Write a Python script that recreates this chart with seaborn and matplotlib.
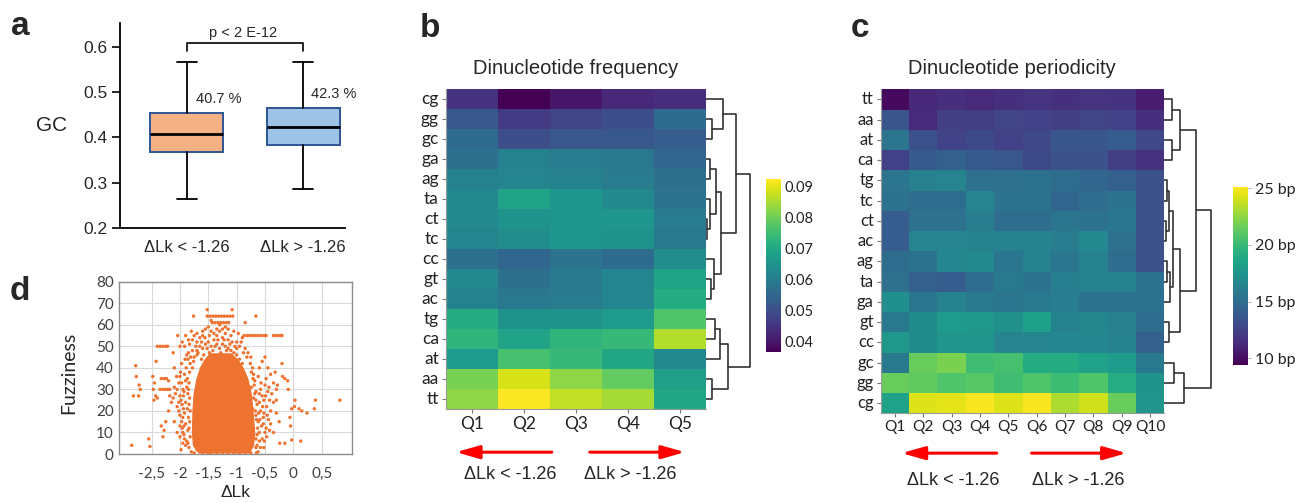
import numpy as np
import pandas as pd
import matplotlib
matplotlib.use("Agg")
import matplotlib.pyplot as plt
import seaborn as sns

sns.set_theme(style="white")
plt.rcParams['font.family'] = ['Liberation Sans', 'DejaVu Sans']

# ---------------- data ----------------
# panel a (box statistics of GC content)
groups_a = ['ΔLk < -1.26', 'ΔLk > -1.26']
gc_median = [0.407, 0.424]
gc_q1 = [0.368, 0.383]
gc_q3 = [0.455, 0.466]
gc_whislo = [0.263, 0.285]
gc_whishi = [0.567, 0.566]
gc_mean_label = ['40.7 %', '42.3 %']
p_label = 'p < 2 E-12'

# panel b (dinucleotide frequency)
freq_rows = ['cg', 'gg', 'gc', 'ga', 'ag', 'ta', 'ct', 'tc', 'cc', 'gt', 'ac', 'tg', 'ca', 'at', 'aa', 'tt']
freq_cols = ['Q1', 'Q2', 'Q3', 'Q4', 'Q5']
freq_values = [
    [0.045, 0.037, 0.040, 0.043, 0.044],
    [0.052, 0.046, 0.048, 0.050, 0.056],
    [0.056, 0.050, 0.052, 0.052, 0.053],
    [0.057, 0.061, 0.060, 0.059, 0.055],
    [0.061, 0.062, 0.061, 0.060, 0.057],
    [0.063, 0.069, 0.066, 0.063, 0.058],
    [0.063, 0.065, 0.066, 0.066, 0.060],
    [0.062, 0.064, 0.066, 0.065, 0.059],
    [0.057, 0.055, 0.058, 0.056, 0.064],
    [0.063, 0.057, 0.059, 0.062, 0.069],
    [0.061, 0.059, 0.060, 0.062, 0.071],
    [0.071, 0.065, 0.065, 0.067, 0.077],
    [0.073, 0.069, 0.073, 0.074, 0.086],
    [0.067, 0.076, 0.074, 0.070, 0.063],
    [0.081, 0.089, 0.083, 0.079, 0.068],
    [0.083, 0.092, 0.087, 0.085, 0.070],
]
freq_ticks = [0.04, 0.05, 0.06, 0.07, 0.08, 0.09]
# dendrogram merges (child a, child b, merge height)
freq_linkage = [(1, 2, 6.6), (0, 16, 17.6), (3, 4, 4.3), (6, 7, 1.3), (5, 19, 4.3),
                (18, 20, 10), (9, 10, 5.3), (8, 22, 8.6), (21, 23, 15), (17, 24, 30.3),
                (11, 12, 9.3), (26, 13, 14.3), (14, 15, 6), (27, 28, 22), (25, 29, 44.3)]

# panel c (dinucleotide periodicity, bp)
per_rows = ['tt', 'aa', 'at', 'ca', 'tg', 'tc', 'ct', 'ac', 'ag', 'ta', 'ga', 'gt', 'cc', 'gc', 'gg', 'cg']
per_cols = ['Q1', 'Q2', 'Q3', 'Q4', 'Q5', 'Q6', 'Q7', 'Q8', 'Q9', 'Q10']
per_values = [
    [9.8, 11.2, 11.5, 11.3, 11.6, 11.8, 11.6, 11.8, 11.7, 10.6],
    [13.5, 11.3, 12.3, 12.2, 12.6, 12.5, 12.3, 12.6, 12.5, 11.6],
    [15.5, 13.3, 12.5, 12.9, 12.4, 12.8, 13.6, 13.6, 14.0, 12.8],
    [12.4, 13.8, 14.2, 13.8, 13.7, 12.9, 13.4, 13.4, 12.2, 11.7],
    [15.5, 16.2, 16.5, 15.2, 15.2, 15.3, 15.0, 14.6, 14.2, 13.4],
    [15.3, 15.0, 15.0, 16.5, 15.4, 15.3, 14.5, 14.9, 15.4, 13.4],
    [14.0, 15.2, 15.2, 16.0, 15.0, 15.0, 15.5, 15.3, 15.6, 13.4],
    [14.0, 16.5, 16.5, 16.3, 16.3, 16.4, 16.0, 16.8, 15.2, 13.4],
    [15.0, 15.3, 16.6, 16.8, 15.6, 16.3, 15.6, 16.4, 15.0, 13.4],
    [15.2, 14.2, 14.0, 15.0, 15.8, 15.3, 16.1, 16.3, 16.3, 15.3],
    [17.2, 15.6, 16.3, 15.8, 15.5, 15.8, 16.0, 15.3, 15.4, 15.3],
    [15.8, 17.0, 18.0, 17.8, 17.3, 18.3, 16.3, 16.7, 16.2, 15.0],
    [17.8, 17.0, 17.6, 17.6, 16.5, 16.5, 16.6, 16.6, 16.4, 14.2],
    [15.8, 21.5, 22.0, 20.3, 20.5, 19.0, 19.0, 18.5, 18.0, 15.8],
    [21.5, 21.3, 20.8, 21.0, 20.3, 20.8, 20.2, 20.8, 19.2, 17.5],
    [18.5, 24.3, 24.5, 25.0, 24.3, 25.0, 23.2, 24.0, 21.5, 17.6],
]
per_ticks = [10, 15, 20, 25]
per_linkage = [(0, 1, 8), (2, 3, 8), (16, 17, 16), (4, 5, 3), (6, 7, 2), (19, 20, 5),
               (8, 9, 3), (22, 10, 6), (21, 23, 9), (11, 12, 5), (24, 25, 16), (18, 26, 32),
               (13, 14, 9.5), (28, 15, 20), (27, 29, 46.5)]

# panel d (ΔLk vs fuzziness)
core_fuzz = [0.5, 4, 10, 20, 28, 35, 40, 44, 47]
core_left = [-1.68, -1.78, -1.80, -1.79, -1.77, -1.72, -1.66, -1.58, -1.48]
core_right = [-0.78, -0.70, -0.68, -0.71, -0.74, -0.80, -0.88, -0.98, -1.10]
points_d = [
    (-2.85, 4), (-2.82, 27), (-2.78, 41), (-2.77, 36), (-2.72, 32), (-2.70, 30), (-2.73, 27),
    (-2.55, 7), (-2.53, 3.5), (-2.42, 43), (-2.40, 50), (-2.35, 50), (-2.30, 50), (-2.25, 50), (-2.22, 50),
    (-2.48, 36), (-2.45, 33), (-2.47, 30), (-2.43, 27), (-2.40, 26), (-2.46, 25),
    (-2.35, 30), (-2.30, 30), (-2.26, 30), (-2.22, 30), (-2.18, 30), (-2.33, 35), (-2.28, 35), (-2.24, 35), (-2.20, 34),
    (-2.33, 13), (-2.28, 11), (-2.30, 8), (-2.25, 15), (-2.20, 20), (-2.18, 27), (-2.15, 24),
    (-2.12, 47), (-2.04, 55), (-2.00, 50), (-1.96, 52), (-2.10, 40), (-2.06, 36), (-2.02, 33), (-2.08, 28),
    (-2.12, 26), (-2.05, 22), (-2.00, 18), (-2.10, 15), (-1.96, 12), (-2.00, 8), (-1.95, 5), (-2.10, 31),
    (-2.05, 30), (-2.00, 27), (-1.98, 25), (-2.02, 20), (-1.97, 15), (-2.05, 10),
    (-1.92, 37), (-1.90, 34), (-1.88, 31), (-1.93, 29), (-1.86, 28), (-1.90, 24), (-1.87, 21), (-1.92, 19),
    (-1.85, 17), (-1.90, 14), (-1.86, 11), (-1.93, 9), (-1.88, 6), (-1.84, 3), (-1.83, 38), (-1.82, 42),
    (-1.86, 44), (-1.85, 47), (-1.80, 1), (-1.75, 0.5),
    (-1.90, 55), (-1.85, 53), (-1.80, 57), (-1.75, 55), (-1.70, 52), (-1.65, 54), (-1.60, 57), (-1.55, 58),
    (-1.50, 59), (-1.45, 57), (-1.40, 56), (-1.35, 55), (-1.30, 57), (-1.25, 54), (-1.20, 56), (-1.15, 53),
    (-1.10, 55), (-1.05, 57), (-1.00, 52), (-0.95, 50), (-1.70, 48), (-1.65, 50), (-1.60, 49), (-1.55, 51),
    (-1.50, 52), (-1.45, 50), (-1.40, 53), (-1.35, 51), (-1.30, 49), (-1.25, 51), (-1.20, 50), (-1.15, 49),
    (-1.10, 48), (-1.05, 47), (-1.00, 46), (-1.75, 45), (-1.70, 46), (-1.62, 44), (-0.95, 44), (-0.90, 42),
    (-1.30, 60), (-1.45, 62), (-1.20, 59),
    (-1.76, 64), (-1.52, 64), (-1.47, 64), (-1.42, 64), (-1.37, 64), (-1.32, 64), (-1.27, 64), (-1.22, 64),
    (-1.17, 64), (-1.12, 64), (-1.07, 64), (-0.66, 64), (-1.52, 67), (-1.08, 67),
    (-1.43, 61), (-1.38, 61), (-1.33, 61), (-1.28, 61), (-1.23, 61), (-1.18, 61), (-1.14, 61), (-0.85, 61),
    (-0.87, 55), (-0.82, 55), (-0.77, 55), (-0.72, 55), (-0.67, 55), (-0.62, 55), (-0.57, 55), (-0.52, 55),
    (-0.48, 55), (-0.35, 55), (-0.30, 55), (-0.25, 55), (-0.20, 55),
    (-0.72, 40), (-0.70, 37), (-0.68, 34), (-0.74, 31), (-0.66, 29), (-0.70, 26), (-0.64, 23), (-0.72, 21),
    (-0.66, 18), (-0.62, 15), (-0.70, 12), (-0.64, 9), (-0.60, 6), (-0.66, 3), (-0.62, 1), (-0.58, 30),
    (-0.55, 27), (-0.52, 25), (-0.58, 20), (-0.53, 17), (-0.56, 13), (-0.50, 10), (-0.55, 7), (-0.52, 3),
    (-0.48, 35), (-0.50, 32), (-0.45, 29), (-0.47, 22), (-0.44, 16), (-0.48, 12), (-0.50, 45), (-0.55, 43),
    (-0.60, 40), (-0.62, 36), (-0.80, 47), (-0.75, 45),
    (-1.45, 0.5), (-1.35, 0.5), (-1.25, 0.5), (-1.15, 0.5), (-1.05, 0.5), (-0.95, 0.5), (-0.85, 0.5),
    (-0.75, 0.5), (-0.65, 0.5),
    (-0.40, 37), (-0.35, 33), (-0.30, 30), (-0.38, 28), (-0.35, 24), (-0.30, 19), (-0.25, 15), (-0.24, 5),
    (-0.15, 5), (-0.35, 10), (-0.40, 14), (-0.40, 20), (-0.42, 25), (-0.20, 42), (-0.19, 36), (-0.15, 35),
    (-0.10, 34), (-0.09, 30), (-0.21, 55), (0.03, 25), (0.02, 22), (-0.03, 21), (-0.06, 17), (-0.05, 13),
    (-0.03, 6.5), (0.10, 21), (0.15, 20), (0.24, 19), (0.37, 21), (0.39, 25), (0.82, 25), (0.13, 6),
    (-0.30, 25), (-0.28, 32), (-0.32, 38), (-0.45, 40),
    (-1.97, 33), (-1.95, 30), (-1.94, 27), (-1.96, 23), (-1.94, 21), (-1.95, 17), (-1.93, 13), (-1.95, 10),
    (-1.92, 7), (-1.90, 4), (-1.89, 40), (-1.87, 35), (-1.84, 33), (-1.85, 30), (-1.83, 26), (-1.84, 23),
    (-1.82, 20), (-1.83, 15), (-1.84, 12), (-1.82, 8), (-1.86, 5), (-1.81, 45), (-1.78, 48), (-1.76, 43),
    (-1.78, 40), (-1.99, 38), (-1.97, 42), (-1.91, 44), (-1.88, 46), (-1.92, 50), (-2.00, 36), (-2.02, 24),
    (-2.00, 13), (-1.98, 2),
    (-0.76, 42), (-0.74, 38), (-0.71, 35), (-0.69, 32), (-0.68, 28), (-0.66, 25), (-0.67, 20), (-0.65, 16),
    (-0.63, 12), (-0.66, 7), (-0.64, 4), (-0.60, 28), (-0.60, 24), (-0.61, 19), (-0.59, 16), (-0.60, 10),
    (-0.58, 3), (-0.57, 33), (-0.54, 22), (-0.52, 19), (-0.53, 14), (-0.51, 6), (-0.49, 27), (-0.46, 18),
    (-0.47, 8), (-0.43, 31), (-0.42, 11), (-0.85, 49), (-0.82, 45), (-0.88, 47), (-0.92, 52), (-0.90, 54),
    (-0.97, 56), (-1.00, 49),
    (-1.72, 50), (-1.68, 47), (-1.62, 52), (-1.58, 46), (-1.56, 54), (-1.52, 49), (-1.48, 55), (-1.42, 48),
    (-1.38, 50), (-1.33, 53), (-1.28, 47), (-1.22, 53), (-1.18, 48), (-1.12, 51), (-1.08, 52), (-1.03, 50),
    (-1.48, 47), (-1.40, 45), (-1.60, 55), (-1.25, 58), (-1.15, 58), (-1.35, 58), (-1.70, 56), (-1.83, 51),
    (-1.78, 53), (-1.60, 0.5), (-1.55, 1), (-1.50, 0.5), (-1.70, 2),
]
dlk_ticks = [-2.5, -2, -1.5, -1, -0.5, 0, 0.5]
dlk_ticklabels = ['-2,5', '-2', '-1,5', '-1', '-0,5', '0', '0,5']
fuzz_ticks = [0, 10, 20, 30, 40, 50, 60, 70, 80]

# ---------------- figure ----------------
W, H = 1298, 503
fig = plt.figure(figsize=(W / 100, H / 100), dpi=100)


def px_axes(l, t, r, b):
    return fig.add_axes([l / W, 1 - b / H, (r - l) / W, (b - t) / H])


# ---- panel a ----
axa = px_axes(120, 22.7, 345, 227.7)
stats = [dict(med=m, q1=a, q3=b, whislo=lo, whishi=hi, label=g)
         for m, a, b, lo, hi, g in zip(gc_median, gc_q1, gc_q3, gc_whislo, gc_whishi, groups_a)]
bp = axa.bxp(stats, positions=[0, 1], widths=0.63, showfliers=False, patch_artist=True,
             boxprops=dict(edgecolor='#2F5597', linewidth=1.4),
             whiskerprops=dict(color='black', linewidth=1.3),
             capprops=dict(color='black', linewidth=1.3),
             medianprops=dict(color='black', linewidth=2.0), capwidths=0.17)
for patch, fc in zip(bp['boxes'], ['#F4B183', '#9DC3E6']):
    patch.set_facecolor(fc)
axa.set_xlim(-0.573, 1.359)
axa.set_ylim(0.2, 0.654)
axa.set_yticks([0.2, 0.3, 0.4, 0.5, 0.6])
axa.set_yticklabels(['0.2', '0.3', '0.4', '0.5', '0.6'], fontsize=12.5)
axa.set_xticks([0, 1])
axa.set_xticklabels(groups_a, fontsize=12)
for s in ['top', 'right']:
    axa.spines[s].set_visible(False)
for s in ['left', 'bottom']:
    axa.spines[s].set_color('black')
    axa.spines[s].set_linewidth(1.3)
axa.tick_params(axis='y', left=True, length=6, width=1.2, color='black', pad=3)
axa.tick_params(axis='x', bottom=False, length=0, pad=9)
axa.set_ylabel('GC', rotation=0, fontsize=15, ha='center', va='center')
axa.yaxis.set_label_coords(-0.302, 0.50)
for xpos, txt, yv in zip([0.08, 1.067], gc_mean_label, [0.484, 0.495]):
    axa.text(xpos, yv, txt, fontsize=10.5, ha='left', va='center')
axa.plot([0, 0, 1, 1], [0.592, 0.609, 0.609, 0.592], color='black', lw=1.2, clip_on=False)
axa.text(0.48, 0.632, p_label, fontsize=10.5, ha='center', va='center')

# ---- panel d ----
orange = '#EE7230'
axd = px_axes(119.3, 281.7, 352.3, 454)
axd.fill_betweenx(core_fuzz, core_left, core_right, color=orange, lw=0, zorder=2)
dlk = [p[0] for p in points_d]
fuzziness = [p[1] for p in points_d]
sns.scatterplot(x=dlk, y=fuzziness, ax=axd, color=orange, s=6, edgecolor='none', linewidth=0, zorder=3)
axd.set_xlim(-3.07, 1.04)
axd.set_ylim(0, 80)
axd.set_xticks(dlk_ticks)
axd.set_xticklabels(dlk_ticklabels)
axd.set_yticks(fuzz_ticks)
axd.grid(True, color='#D9D9D9', lw=0.8)
axd.set_axisbelow(True)
for s in axd.spines.values():
    s.set_visible(True)
    s.set_color('#8C8C8C')
    s.set_linewidth(1.0)
axd.tick_params(length=0, labelsize=11, labelcolor='#404040')
axd.tick_params(axis='x', pad=9)
axd.tick_params(axis='y', pad=4)
for lbl in axd.get_xticklabels() + axd.get_yticklabels():
    lbl.set_fontfamily(['Lato', 'DejaVu Sans'])
axd.set_ylabel('Fuzziness', fontsize=14, family=['Lato', 'DejaVu Sans'], color='#262626')
axd.yaxis.set_label_coords(-0.18, 0.47)
axd.set_xlabel('ΔLk', fontsize=12.5, color='#262626', va='center')
axd.xaxis.set_label_coords(0.5, -0.225)


# ---- dendrogram helper ----
def draw_dendrogram(ax, merges, n_leaves, width):
    pos = [i + 0.5 for i in range(n_leaves)]
    hgt = [0.0] * n_leaves
    for a, b, h in merges:
        ax.plot([hgt[a], h, h, hgt[b]], [pos[a], pos[a], pos[b], pos[b]],
                color='#333333', lw=1.2)
        pos.append((pos[a] + pos[b]) / 2)
        hgt.append(h)
    ax.set_ylim(n_leaves, 0)
    ax.set_xlim(0, width)
    ax.axis('off')


def arrow(ax, x0, x1, y):
    tr = ax.get_xaxis_transform()
    ax.annotate('', xy=(x1, y), xytext=(x0, y), xycoords=tr, textcoords=tr,
                arrowprops=dict(arrowstyle='-|>,head_length=0.7,head_width=0.2', color='#FF0000',
                                lw=2.2, shrinkA=0, shrinkB=0, mutation_scale=20),
                annotation_clip=False)


def style_heatmap(ax, cax, labelsize, cbar_labelsize):
    ax.tick_params(left=True, bottom=True, length=3, width=0.8, color='#777777', labelsize=labelsize,
                   labelcolor='#222222', pad=2)
    ax.set_yticklabels(ax.get_yticklabels(), rotation=0)
    ax.set_xticklabels(ax.get_xticklabels(), rotation=0)
    for lbl in ax.get_xticklabels() + ax.get_yticklabels():
        lbl.set_fontfamily(['Lato', 'DejaVu Sans'])
    for s in ['left', 'bottom']:
        ax.spines[s].set_visible(True)
        ax.spines[s].set_color('#999999')
        ax.spines[s].set_linewidth(0.8)
    ax.set_xlabel('')
    ax.set_ylabel('')
    for lbl in cax.get_yticklabels():
        lbl.set_fontfamily(['Lato', 'DejaVu Sans'])
        lbl.set_fontsize(cbar_labelsize)
        lbl.set_color('#222222')


# ---- panel b ----
df_b = pd.DataFrame(freq_values, index=freq_rows, columns=freq_cols)
axb = px_axes(445.7, 89.3, 705.7, 409.3)
caxb = px_axes(766, 179.3, 780.7, 351.7)
sns.heatmap(df_b, ax=axb, cmap='viridis', vmin=0.0368, vmax=0.0924, cbar_ax=caxb,
            cbar_kws=dict(ticks=freq_ticks))
cb = axb.collections[0].colorbar
cb.outline.set_visible(False)
cb.set_ticks(freq_ticks)
cb.set_ticklabels(['%.2f' % t for t in freq_ticks])
caxb.tick_params(length=0, pad=3)
style_heatmap(axb, caxb, 12.5, 10.5)
axb.set_title('Dinucleotide frequency', fontsize=14.5, pad=11)
dax_b = px_axes(705.7, 89.3, 755, 409.3)
draw_dendrogram(dax_b, freq_linkage, len(freq_rows), 49.3)
arrow(axb, 2.04, 0.2, -0.134)
arrow(axb, 2.77, 4.6, -0.134)
axb.text(1.24, -0.205, 'ΔLk < -1.26', transform=axb.get_xaxis_transform(), ha='center', va='center', fontsize=13)
axb.text(3.54, -0.205, 'ΔLk > -1.26', transform=axb.get_xaxis_transform(), ha='center', va='center', fontsize=13)

# ---- panel c ----
df_c = pd.DataFrame(per_values, index=per_rows, columns=per_cols)
axc = px_axes(880.7, 89.3, 1164.3, 413.3)
caxc = px_axes(1232.7, 186.7, 1248.3, 365)
sns.heatmap(df_c, ax=axc, cmap='viridis', vmin=9.41, vmax=25.14, cbar_ax=caxc,
            cbar_kws=dict(ticks=per_ticks))
cc = axc.collections[0].colorbar
cc.outline.set_visible(False)
cc.set_ticks(per_ticks)
cc.set_ticklabels(['%d bp' % t for t in per_ticks])
caxc.tick_params(length=2, width=0.6, color='#999999', pad=3)
style_heatmap(axc, caxc, 12, 11.5)
axc.tick_params(axis='x', labelsize=11.2)
axc.set_title('Dinucleotide periodicity', fontsize=14.5, pad=11, x=0.462)
dax_c = px_axes(1164.3, 89.3, 1214, 413.3)
draw_dendrogram(dax_c, per_linkage, len(per_rows), 49.7)
arrow(axc, 4.09, 0.74, -0.123)
arrow(axc, 5.32, 8.67, -0.123)
axc.text(2.55, -0.206, 'ΔLk < -1.26', transform=axc.get_xaxis_transform(), ha='center', va='center', fontsize=13)
axc.text(6.96, -0.206, 'ΔLk > -1.26', transform=axc.get_xaxis_transform(), ha='center', va='center', fontsize=13)

# ---- panel letters ----
for letter, x, y in [('a', 11, 35), ('b', 420, 37), ('c', 851, 37), ('d', 10, 300)]:
    fig.text(x / W, 1 - y / H, letter, fontsize=24, fontweight='bold', ha='left', va='baseline')

fig.savefig('out.png', dpi=100, facecolor='white')
